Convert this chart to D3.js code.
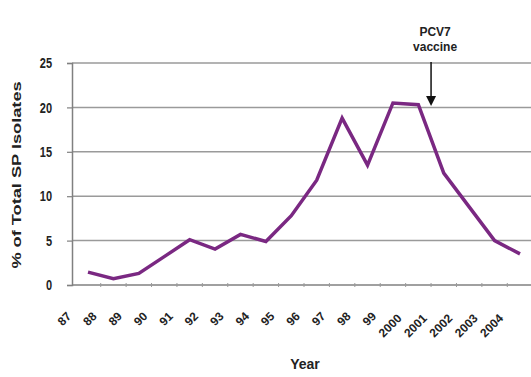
<!DOCTYPE html>
<html>
<head>
<meta charset="utf-8">
<script src="https://cdn.jsdelivr.net/npm/d3@7"></script>
<style>
  html, body { margin: 0; padding: 0; background: #fff; }
  svg { display: block; }
  text { font-family: "Liberation Sans", Arial, sans-serif; font-weight: bold; fill: #222; }
</style>
</head>
<body>
<script>
// Year categories shown on the x axis
const years = ["87","88","89","90","91","92","93","94","95","96","97","98","99","2000","2001","2002","2003","2004"];
// Share of total S. pneumoniae isolates (%) per year
const percentValues = [1.45, 0.7, 1.3, 3.2, 5.1, 4.05, 5.7, 4.9, 7.8, 11.8, 18.8, 13.5, 20.5, 20.3, 12.6, 8.8, 5.0, 3.5];
// y axis ticks
const yTicks = [0, 5, 10, 15, 20, 25];
const yTitle = "% of Total SP Isolates";
const xTitle = "Year";
const annotationLines = ["PCV7", "vaccine"];
const annotationYear = "2000";

const W = 531, H = 377;
const plotLeft = 72, plotTop = 63, plotBottom = 285, plotRight = 531;

const svg = d3.select("body").append("svg").attr("width", W).attr("height", H);

const x = d3.scalePoint().domain(years).range([88, 520]);
const y = d3.scaleLinear().domain([0, 25]).range([plotBottom, plotTop]);
const step = x.step();

// horizontal gridlines
svg.append("g").selectAll("line").data(yTicks.filter(d => d > 0)).join("line")
  .attr("x1", plotLeft).attr("x2", plotRight)
  .attr("y1", d => y(d)).attr("y2", d => y(d))
  .attr("stroke", "#9a9a9a").attr("stroke-width", 1.5);

// y axis
const yAxis = svg.append("g").attr("transform", `translate(${plotLeft},0)`)
  .call(d3.axisLeft(y).tickValues(yTicks).tickSize(5).tickPadding(15));
yAxis.select(".domain").attr("stroke", "#808080").attr("stroke-width", 1.5);
yAxis.selectAll(".tick line").attr("stroke", "#808080").attr("stroke-width", 1.2);
yAxis.selectAll(".tick text")
  .style("font-family", "'Liberation Sans', Arial, sans-serif")
  .style("font-weight", "bold").style("font-size", "11px").attr("fill", "#222")
  .attr("transform", "scale(1,1.35)");

// x axis baseline with category boundary ticks
svg.append("line").attr("x1", plotLeft).attr("x2", plotRight)
  .attr("y1", plotBottom).attr("y2", plotBottom)
  .attr("stroke", "#808080").attr("stroke-width", 1.5);
svg.append("g").selectAll("line").data(years.slice(0, -1)).join("line")
  .attr("x1", d => x(d) + step / 2).attr("x2", d => x(d) + step / 2)
  .attr("y1", plotBottom - 2).attr("y2", plotBottom + 2)
  .attr("stroke", "#9a9a9a").attr("stroke-width", 1);

// rotated year labels
svg.append("g").selectAll("text").data(years).join("text")
  .attr("text-anchor", "end")
  .attr("transform", d => `translate(${x(d) - 16},${d.length > 2 ? 319 : 317}) rotate(-45)`)
  .style("font-size", "12px")
  .text(d => d);

// data line
const line = d3.line().x((d, i) => x(years[i])).y(d => y(d));
svg.append("path").datum(percentValues)
  .attr("d", line)
  .attr("fill", "none").attr("stroke", "#7a2882").attr("stroke-width", 3.5)
  .attr("stroke-linejoin", "miter");

// axis titles
svg.append("text")
  .attr("transform", "translate(21,175) scale(1,1.4) rotate(-90)")
  .attr("text-anchor", "middle")
  .style("font-size", "13px")
  .text(yTitle);
svg.append("text")
  .attr("x", 305).attr("y", 369)
  .attr("text-anchor", "middle")
  .style("font-size", "14px")
  .text(xTitle);

// vaccine introduction marker
const ax = x(annotationYear) + step / 2;
svg.append("g").selectAll("text").data(annotationLines).join("text")
  .attr("x", ax + 4).attr("y", (d, i) => 36 + i * 15)
  .attr("text-anchor", "middle")
  .style("font-size", "12px")
  .text(d => d);
svg.append("line").attr("x1", ax).attr("x2", ax)
  .attr("y1", 62).attr("y2", 97)
  .attr("stroke", "#111").attr("stroke-width", 1.5);
svg.append("path")
  .attr("d", `M${ax - 5},${96} L${ax + 5},${96} L${ax},${106} Z`)
  .attr("fill", "#111");
</script>
</body>
</html>
